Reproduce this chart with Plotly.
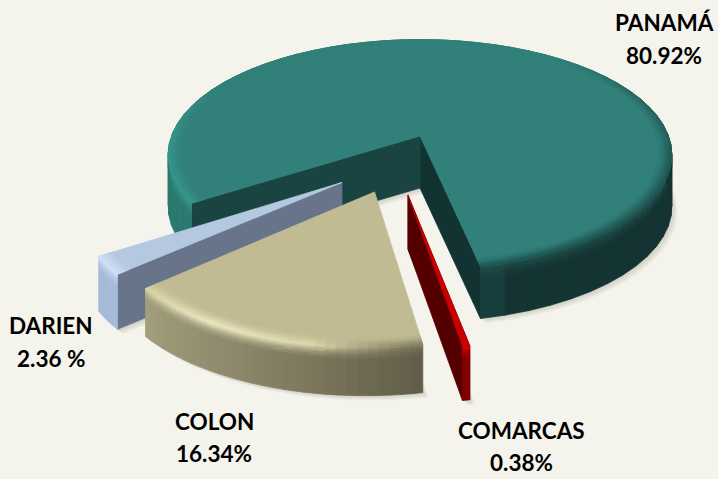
import math
import plotly.graph_objects as go

# ---- data ----
categories = ["PANAMÁ", "DARIEN", "COLON", "COMARCAS"]
percentages = [80.92, 2.36, 16.34, 0.38]
value_labels = ["80.92%", "2.36 %", "16.34%", "0.38%"]

# ---- drawing style ----
BG = "#F4F3EC"
CX, CY, RX, RY, K = 420, 136, 250.5, 113, 0.164
START = 11.8
explode = {"PANAMÁ": (0, 0), "DARIEN": (-0.292, 0.385), "COLON": (-0.168, 0.458), "COMARCAS": (-0.044, 0.483)}
radius = {"PANAMÁ": 0.992, "DARIEN": 0.955, "COLON": 0.975, "COMARCAS": 0.96}
depth = {"PANAMÁ": 52, "DARIEN": 55, "COLON": 48, "COMARCAS": 54}
top_col = {"PANAMÁ": "#31807A", "DARIEN": "#B4C9E0", "COLON": "#C1BB94", "COMARCAS": "#C80000"}
wall_stops = {
    "PANAMÁ": [(11, "#1C504C"), (16, "#143433"), (130, "#143433"), (250, "#1A5A52"), (272, "#2A7A70"), (304, "#2A7A70")],
    "DARIEN": [(303, "#A6BBD8"), (312, "#A6BBD8")],
    "COLON": [(311, "#A39E7C"), (335, "#8E896C"), (355, "#767158"), (371, "#5F5B48")],
    "COMARCAS": [(369, "#800000"), (373, "#800000")],
}
rim_stops = {
    "PANAMÁ": [(11, "#1D4F4C"), (70, "#1D4F4C"), (120, "#27685F"), (140, "#31807A"), (240, "#31807A"), (270, "#36958A"), (304, "#36988B")],
    "DARIEN": [(303, "#D2E2F6"), (312, "#D2E2F6")],
    "COLON": [(311, "#D8D3A5"), (330, "#EFEBC5"), (350, "#DFDBAF"), (364, "#8F8A68"), (371, "#7A755A")],
    "COMARCAS": [(369, "#E00000"), (373, "#E00000")],
}
cut_col = {"PANAMÁ": ("#133333", "#1A4441"), "DARIEN": (None, "#67748A"), "COLON": (None, None), "COMARCAS": ("#550000", "#550000")}
label_pos = {"PANAMÁ": (664, 22, 55), "DARIEN": (51, 325, 358), "COLON": (214, 421, 453), "COMARCAS": (521, 430, 462)}


def rgb(h):
    return tuple(int(h[i:i + 2], 16) for i in (1, 3, 5))


def mix(a, b, t):
    ca, cb = rgb(a), rgb(b)
    return "#%02X%02X%02X" % tuple(round(x + (y - x) * t) for x, y in zip(ca, cb))


def ramp(stops, p):
    if p <= stops[0][0]:
        return stops[0][1]
    for (p0, c0), (p1, c1) in zip(stops, stops[1:]):
        if p <= p1:
            return mix(c0, c1, (p - p0) / (p1 - p0))
    return stops[-1][1]


def project(X, Y, z=0.0):
    s = 1 / (1 - K * Y)
    return CX + RX * X * s, CY + RY * Y * s + z


def disc(name, r, phi):
    ox, oy = explode[name]
    a = math.radians(phi)
    return ox + r * math.sin(a), oy + r * math.cos(a)


def poly(pts, color, opacity=None):
    xs = [p[0] for p in pts] + [pts[0][0]]
    ys = [p[1] for p in pts] + [pts[0][1]]
    fig.add_trace(go.Scatter(
        x=xs, y=ys, mode="lines", fill="toself", fillcolor=color,
        line=dict(color=color if opacity is None else "rgba(0,0,0,0)", width=0.8),
        hoverinfo="skip", showlegend=False))


def winding(pts):
    return sum(a[0] * b[1] - b[0] * a[1] for a, b in zip(pts, pts[1:] + pts[:1])) > 0


def quad_layer(quads):
    """Draw many same-layer quads, one trace per colour and winding direction."""
    groups = {}
    for col, pts in quads:
        groups.setdefault((col, winding(pts)), []).append(pts)
    for (col, _), polys in groups.items():
        xs, ys = [], []
        for pts in polys:
            xs += [p[0] for p in pts] + [pts[0][0], None]
            ys += [p[1] for p in pts] + [pts[0][1], None]
        fig.add_trace(go.Scatter(x=xs, y=ys, mode="lines", fill="toself", fillcolor=col,
                                 line=dict(color=col, width=0.8), hoverinfo="skip", showlegend=False))


fig = go.Figure()

# slice angles come from the values
spans = {}
phi = START
for name, pct in zip(categories, percentages):
    spans[name] = (phi, phi + pct * 3.6)
    phi += pct * 3.6


def angles(p0, p1, step):
    n = max(1, math.ceil((p1 - p0) / step))
    return [p0 + (p1 - p0) * i / n for i in range(n + 1)]


# (start, end, share of wall colour) from the rim down
WALL_BANDS = [(0.00, 0.04, 0.1), (0.04, 0.08, 0.3), (0.08, 0.12, 0.5), (0.12, 0.17, 0.7), (0.17, 0.23, 0.87), (0.23, 1.0, 1.0)]
# (outer, inner, share of rim colour) from the edge inward
TOP_BANDS = [(1.0, 0.99, 0.9), (0.99, 0.98, 0.7), (0.98, 0.97, 0.5), (0.97, 0.96, 0.3), (0.96, 0.95, 0.12)]

draw_order = ["PANAMÁ", "DARIEN", "COLON", "COMARCAS"]
for name in draw_order:
    p0, p1 = spans[name]
    r = radius[name]
    d = depth[name]
    step = 5 if name == "PANAMÁ" else 2
    ang = angles(p0, p1, step)
    apex = disc(name, 0, 0)
    outer = [disc(name, r, a) for a in ang]

    # soft shadow under the slice
    bottom = [project(*apex, d)] + [project(*q, d) for q in outer]
    for off in (2, 4, 6, 8):
        poly([(x + off * 0.7, y + off * 0.6) for x, y in bottom], "rgba(80,75,60,0.05)", opacity=True)

    # cut walls
    c_right, c_left = cut_col[name]
    if c_right:
        q = outer[0]
        poly([project(*apex), project(*q), project(*q, d), project(*apex, d)], c_right)
    if c_left:
        q = outer[-1]
        poly([project(*apex), project(*q), project(*q, d), project(*apex, d)], c_left)

    # outer wall with vertical highlight
    quads = []
    for a0, a1, q0, q1 in zip(ang, ang[1:], outer, outer[1:]):
        mid = (a0 + a1) / 2
        wall = ramp(wall_stops[name], mid)
        rim = ramp(rim_stops[name], mid)
        for f0, f1, t in WALL_BANDS:
            quads.append((mix(rim, wall, t), [project(*q0, d * f0), project(*q1, d * f0), project(*q1, d * f1), project(*q0, d * f1)]))
    quad_layer(quads)

    # top face
    poly([project(*apex)] + [project(*q) for q in outer], top_col[name])
    if name != "COMARCAS":
        for f0, f1, t in TOP_BANDS:
            quads = []
            for a0, a1 in zip(ang, ang[1:]):
                rim = ramp(rim_stops[name], (a0 + a1) / 2)
                quads.append((mix(top_col[name], rim, t),
                              [project(*disc(name, r * f0, a0)), project(*disc(name, r * f0, a1)),
                               project(*disc(name, r * f1, a1)), project(*disc(name, r * f1, a0))]))
            quad_layer(quads)

# labels
for name, txt in zip(categories, value_labels):
    x, y1, y2 = label_pos[name]
    for y, t in ((y1, name), (y2, txt)):
        fig.add_annotation(x=x, y=y, text=f"<b>{t}</b>", showarrow=False, xanchor="center", yanchor="middle",
                           font=dict(family="Lato", size=22.5, color="#000000"))

fig.update_layout(
    width=718, height=479, margin=dict(l=0, r=0, t=0, b=0),
    paper_bgcolor=BG, plot_bgcolor=BG, showlegend=False,
    xaxis=dict(range=[0, 718], visible=False, fixedrange=True),
    yaxis=dict(range=[479, 0], visible=False, fixedrange=True),
)
fig.write_html("out.html", config={"displayModeBar": False},
               post_script="document.body.style.margin='0';document.body.style.overflow='hidden';document.body.style.background='%s';" % BG)
